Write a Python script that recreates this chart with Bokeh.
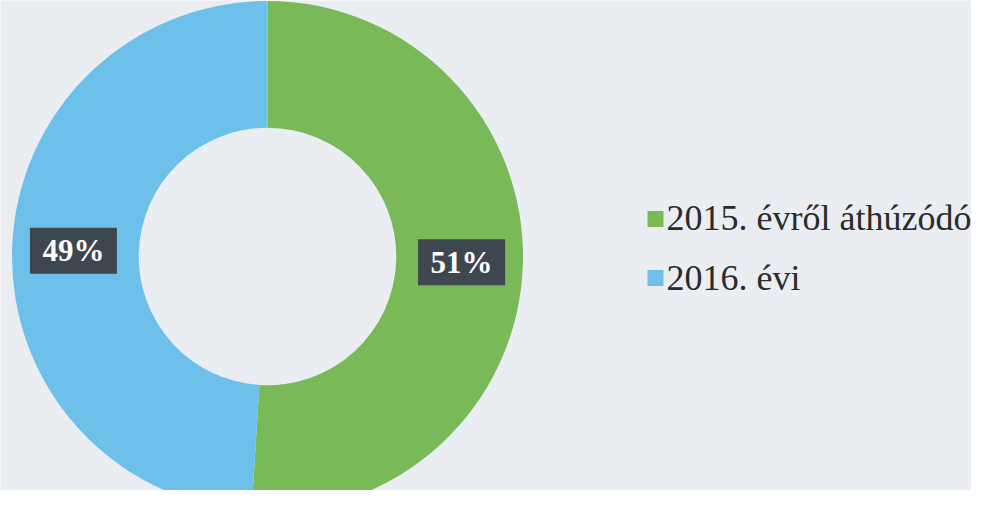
import numpy as np
from bokeh.plotting import figure
from bokeh.models import Range1d, ColumnDataSource
from bokeh.core.properties import value
from bokeh.embed import file_html
from bokeh.resources import INLINE

# ---- data ----
categories = ["2015. évről áthúzódó", "2016. évi"]
shares = [51, 49]
labels = ["51%", "49%"]
colors = ["#79b957", "#6dc0e9"]

# ---- layout (frame is 971x490 px; slightly wider x scale like the scan) ----
W, H = 971, 490
sx, sy = 1.022, 0.984          # px per data unit
xr = Range1d(0, W / sx)
yr = Range1d(0, H / sy)

def dx(px):   # screen pixel x -> data
    return px / sx

def dy(py):   # screen pixel y -> data
    return (H - py) / sy

cx, cy = dx(267), dy(256)
r_out, r_in = 250, 126

p = figure(width=W, height=H, x_range=xr, y_range=yr, output_backend="svg",
           toolbar_location=None, min_border=0)
p.axis.visible = False
p.grid.visible = False
p.outline_line_color = None
p.background_fill_color = "#eaeef2"
p.border_fill_color = "#eaeef2"

vals = np.array(shares, dtype=float)
frac = vals / vals.sum()
cum = np.concatenate([[0], np.cumsum(frac)])
start = np.pi / 2 - 2 * np.pi * cum[:-1]
end = np.pi / 2 - 2 * np.pi * cum[1:]
mid = (start + end) / 2
r_lab = 190
src = ColumnDataSource(dict(cat=categories, start=start, end=end, color=colors,
                            lx=cx + r_lab * np.cos(mid), ly=cy + r_lab * np.sin(mid),
                            lab=labels))

p.annular_wedge(x=cx, y=cy, inner_radius=r_in, outer_radius=r_out,
                start_angle="start", end_angle="end", direction="clock",
                fill_color="color", line_color=None, source=src)

# data labels in dark boxes
p.rect(x="lx", y="ly", width=87, height=46, width_units="screen",
       height_units="screen", fill_color="#3e4650", line_color=None, source=src)
p.text(x="lx", y="ly", text="lab", text_color="white", text_font=value("Liberation Serif"),
       text_font_style="bold", text_font_size="31px", text_align="center",
       text_baseline="middle", source=src)

# legend
n = len(categories)
leg_y = [dy(218.5 + 59 * i) for i in range(n)]
leg_base = [dy(217 + 60 * i) for i in range(n)]
lsrc = ColumnDataSource(dict(x=[dx(655)] * n, y=leg_y, tx=[dx(666)] * n, ty=leg_base,
                             cat=categories, color=colors))
p.rect(x="x", y="y", width=16, height=16, width_units="screen", height_units="screen",
       fill_color="color", line_color=None, source=lsrc)
p.text(x="tx", y="ty", text="cat", text_color="#2b2b2b",
       text_font=value("Liberation Serif"), text_font_size="36px",
       text_align="left", text_baseline="alphabetic", source=lsrc)

open("out.html", "w").write(file_html(p, INLINE))
